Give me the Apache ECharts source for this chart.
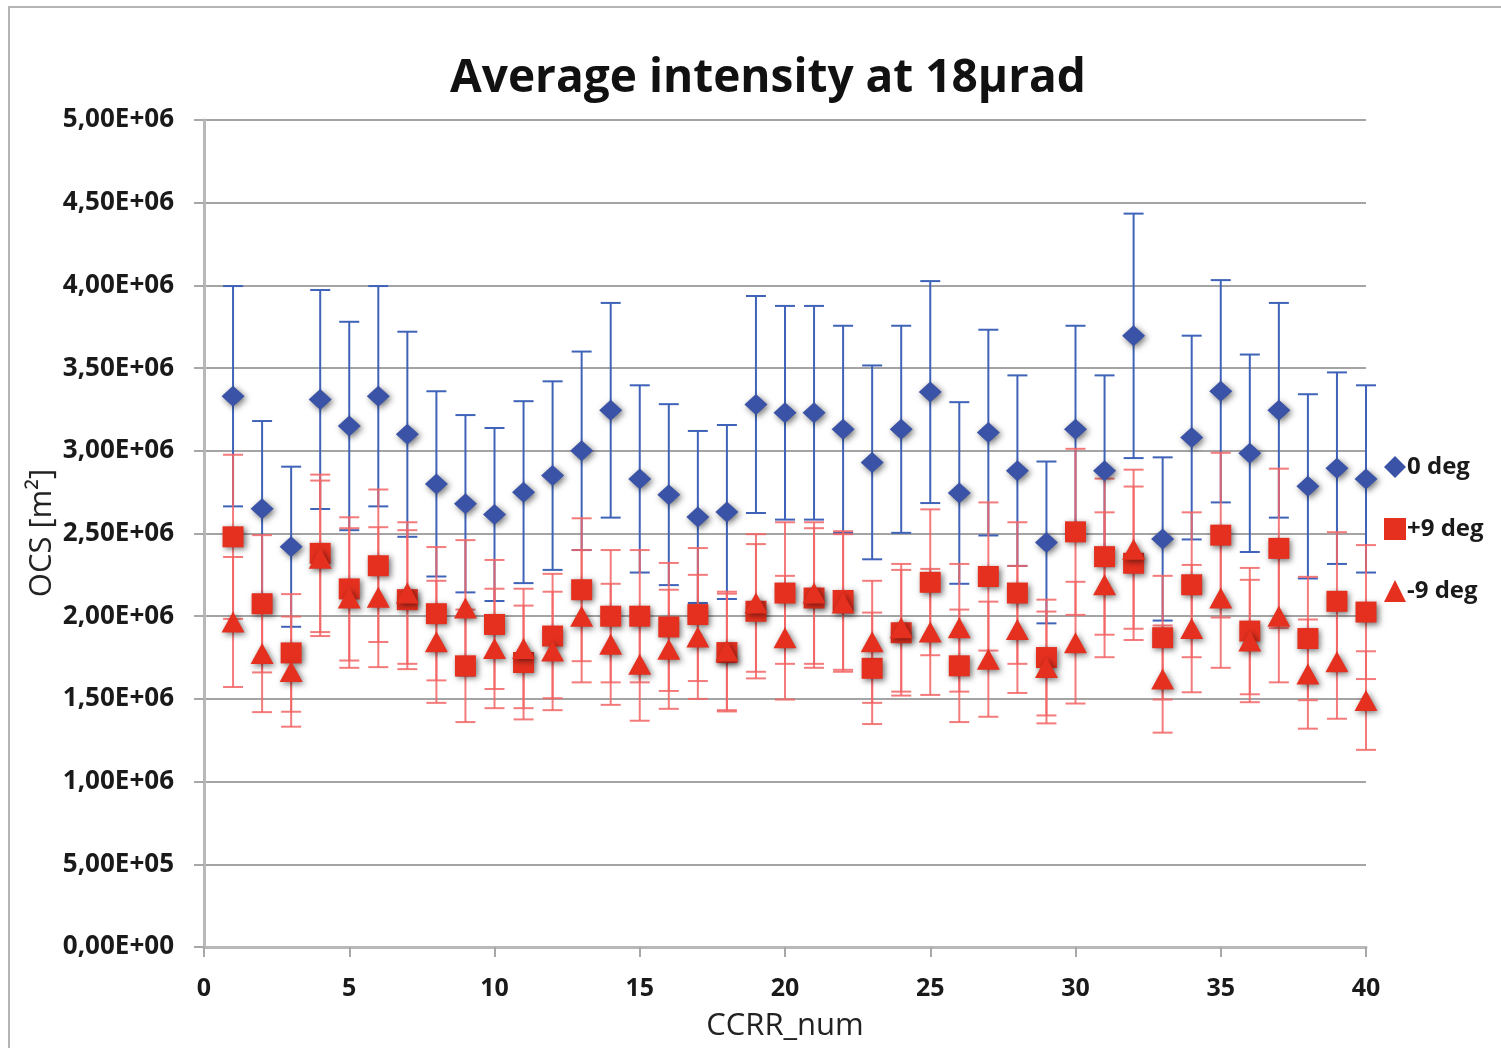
<!DOCTYPE html>
<html>
<head>
<meta charset="utf-8">
<title>Average intensity at 18µrad</title>
<script src="https://cdn.jsdelivr.net/npm/echarts@6/dist/echarts.min.js"></script>
<style>
  html, body { margin: 0; padding: 0; background: #fff; }
  #chart { width: 1501px; height: 1048px; }
</style>
</head>
<body>
<div id="chart"></div>
<script>
// CCRR index along the x axis
const ccrrNum = [1,2,3,4,5,6,7,8,9,10,11,12,13,14,15,16,17,18,19,20,
                 21,22,23,24,25,26,27,28,29,30,31,32,33,34,35,36,37,38,39,40];

// Average OCS [m²] per CCRR, for each incidence angle
const deg0 = [3.33e6,2.65e6,2.42e6,3.31e6,3.15e6,3.33e6,3.10e6,2.80e6,2.68e6,2.615e6,
              2.75e6,2.85e6,3.00e6,3.245e6,2.83e6,2.735e6,2.60e6,2.63e6,3.28e6,3.23e6,
              3.23e6,3.13e6,2.93e6,3.13e6,3.355e6,2.745e6,3.11e6,2.88e6,2.446e6,3.13e6,
              2.88e6,3.695e6,2.467e6,3.08e6,3.36e6,2.985e6,3.245e6,2.785e6,2.895e6,2.83e6];
const degPlus9 = [2.48e6,2.075e6,1.778e6,2.38e6,2.165e6,2.305e6,2.10e6,2.015e6,1.70e6,1.95e6,
                  1.72e6,1.88e6,2.16e6,2.00e6,2.00e6,1.935e6,2.01e6,1.78e6,2.03e6,2.14e6,
                  2.11e6,2.095e6,1.685e6,1.90e6,2.205e6,1.70e6,2.24e6,2.14e6,1.75e6,2.51e6,
                  2.36e6,2.32e6,1.87e6,2.19e6,2.49e6,1.91e6,2.41e6,1.865e6,2.09e6,2.025e6];
const degMinus9 = [1.965e6,1.775e6,1.665e6,2.35e6,2.11e6,2.115e6,2.14e6,1.845e6,2.05e6,1.805e6,
                   1.805e6,1.79e6,2.00e6,1.83e6,1.71e6,1.80e6,1.875e6,1.79e6,2.08e6,1.87e6,
                   2.14e6,2.08e6,1.845e6,1.93e6,1.905e6,1.93e6,1.74e6,1.92e6,1.69e6,1.84e6,
                   2.19e6,2.405e6,1.62e6,1.925e6,2.11e6,1.85e6,2.00e6,1.65e6,1.725e6,1.49e6];

// Error bars are a fixed percentage of each value
const errorPercent = 20;

const seriesNames = ['0 deg', '+9 deg', '-9 deg'];
const yAxisTitle = 'OCS [m²]';

const FONT = '"Open Sans", Lato, sans-serif';
const BLUE = '#3A53A6';
const BLUE_ERR = '#3F63B8';
const RED = '#E5301F';
const RED_ERR = 'rgba(242,100,100,0.85)';

// "5,00E+06" style tick labels
function sciComma(v) {
  const parts = Number(v).toExponential(2).split('e');
  const mant = parts[0].replace('.', ',');
  const exp = parseInt(parts[1], 10);
  const sign = exp < 0 ? '-' : '+';
  const digits = String(Math.abs(exp)).padStart(2, '0');
  return mant + 'E' + sign + digits;
}

function pairs(values) {
  return ccrrNum.map((x, i) => [x, values[i]]);
}

function errorSeries(values, color) {
  return {
    type: 'custom',
    silent: true,
    z: 2,
    data: pairs(values),
    renderItem: function (params, api) {
      const x = api.value(0);
      const v = api.value(1);
      const d = v * errorPercent / 100;
      const top = api.coord([x, v + d]);
      const bot = api.coord([x, v - d]);
      const half = 10;
      const style = { stroke: color, lineWidth: 2 };
      return {
        type: 'group',
        children: [
          { type: 'line', shape: { x1: top[0], y1: top[1], x2: bot[0], y2: bot[1] }, style: style },
          { type: 'line', shape: { x1: top[0] - half, y1: top[1], x2: top[0] + half, y2: top[1] }, style: style },
          { type: 'line', shape: { x1: bot[0] - half, y1: bot[1], x2: bot[0] + half, y2: bot[1] }, style: style }
        ]
      };
    }
  };
}

function markerSeries(name, values, symbol, size, color, z) {
  return {
    name: name,
    type: 'scatter',
    symbol: symbol,
    symbolSize: size,
    z: z,
    data: pairs(values),
    itemStyle: {
      color: color,
      opacity: 1,
      shadowBlur: 6,
      shadowOffsetX: 2,
      shadowOffsetY: 2,
      shadowColor: 'rgba(0,0,0,0.55)'
    }
  };
}

const chart = echarts.init(document.getElementById('chart'), null, { renderer: 'canvas' });

chart.setOption({
  animation: false,
  backgroundColor: '#ffffff',
  title: {
    text: 'Average intensity at 18µrad',
    left: 763,
    textAlign: 'center',
    top: 51,
    textStyle: { fontFamily: FONT, fontWeight: 'bold', fontSize: 46, color: '#111' }
  },
  graphic: [
    {
      type: 'rect',
      shape: { x: 9, y: 7, width: 1600, height: 1200 },
      style: { fill: 'none', stroke: '#b4b4b4', lineWidth: 2 },
      silent: true
    },
    {
      // vertical y-axis title, left of the tick labels
      type: 'text',
      x: 42,
      y: 533,
      rotation: Math.PI / 2,
      z: 10,
      style: {
        text: yAxisTitle,
        fontFamily: FONT,
        fontSize: 31,
        fill: '#222',
        align: 'center',
        verticalAlign: 'middle'
      },
      silent: true
    }
  ],
  legend: {
    orient: 'vertical',
    left: 1379,
    top: 450,
    itemGap: 38,
    itemWidth: 22,
    itemHeight: 22,
    data: [
      { name: seriesNames[0], icon: 'diamond' },
      { name: seriesNames[1], icon: 'rect' },
      { name: seriesNames[2], icon: 'triangle' }
    ],
    textStyle: { fontFamily: FONT, fontWeight: 'bold', fontSize: 24, color: '#1a1a1a', padding: [0, 0, 0, -4] }
  },
  grid: { left: 204, right: 135, top: 120, bottom: 101, containLabel: false },
  xAxis: {
    type: 'value',
    min: 0,
    max: 40,
    interval: 5,
    name: 'CCRR_num',
    nameLocation: 'middle',
    nameGap: 64,
    nameTextStyle: { fontFamily: FONT, fontSize: 31, color: '#222' },
    axisLine: { show: true, onZero: false, lineStyle: { color: '#b8b8b8', width: 3 } },
    axisTick: { show: true, inside: false, length: 10, lineStyle: { color: '#a8a8a8', width: 2 } },
    axisLabel: { margin: 29, fontFamily: FONT, fontWeight: 'bold', fontSize: 25, color: '#1a1a1a' },
    splitLine: { show: false }
  },
  yAxis: {
    type: 'value',
    min: 0,
    max: 5e6,
    interval: 5e5,
    axisLine: { show: true, lineStyle: { color: '#b8b8b8', width: 3 } },
    axisTick: { show: true, inside: false, length: 10, lineStyle: { color: '#a8a8a8', width: 2 } },
    axisLabel: {
      margin: 30,
      fontFamily: FONT,
      fontWeight: 'bold',
      fontSize: 26,
      color: '#1a1a1a',
      formatter: sciComma
    },
    splitLine: { show: true, lineStyle: { color: '#a4a4a4', width: 2 } }
  },
  series: [
    errorSeries(deg0, BLUE_ERR),
    errorSeries(degPlus9, RED_ERR),
    errorSeries(degMinus9, RED_ERR),
    markerSeries(seriesNames[0], deg0, 'diamond', [23, 21], BLUE, 5),
    markerSeries(seriesNames[1], degPlus9, 'rect', 21, RED, 6),
    markerSeries(seriesNames[2], degMinus9, 'triangle', [23, 21], RED, 7)
  ]
});
</script>
</body>
</html>
